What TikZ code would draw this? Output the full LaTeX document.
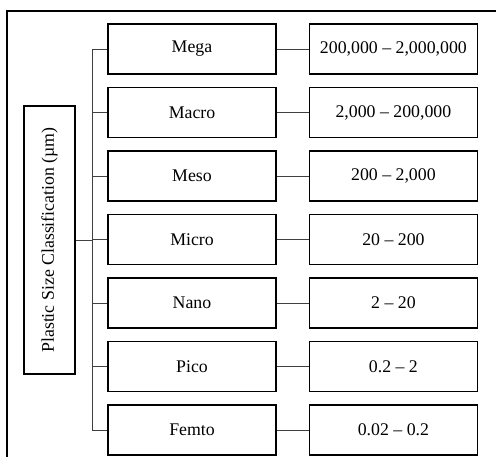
\documentclass[tikz,border=0pt]{standalone}
\usepackage{fontspec}
\setmainfont{Liberation Serif}
\usetikzlibrary{positioning}

\tikzset{
  sizebox/.style={draw, line width=1.4pt, minimum width=168pt, minimum height=50pt, inner sep=0pt, font=\fontsize{17.8}{21}\selectfont},
  link/.style={draw=black!75, line width=0.9pt}
}

\begin{document}
\begin{tikzpicture}[line join=miter,x=1pt,y=-1pt]
\useasboundingbox (0,0) rectangle (496,457);
\draw[line width=1.3pt] (7,457)-- (7,11)-- (496,11);
% classes and size ranges
\foreach \cname/\crange [count=\i] in {Mega/{200,000 -- 2,000,000},Macro/{2,000 -- 200,000},Meso/{200 -- 2,000},Micro/{20 -- 200},Nano/{2 -- 20},Pico/{0.2 -- 2},Femto/{0.02 -- 0.2}}{
  \node[sizebox] (c\i) at (192,{49+63.5*(\i-1)}) {\cname};
  \node[sizebox, right=32pt of c\i] (r\i) {\crange};
  \draw[link] (c\i) -- (r\i);
}
\node[sizebox, rotate=90, minimum width=268pt, minimum height=51pt] (cls) at (49.5,240) {Plastic Size Classification (µm)};
\coordinate (bustop) at (92,49);
\coordinate (busbot) at (92,430);
\draw[link] (bustop) -- (busbot);
\foreach \i in {1,...,7}
  \draw[link] (c\i.west) -- (c\i.west -| bustop);
\draw[link] (cls.south) -- (cls.south -| bustop);
\end{tikzpicture}
\end{document}
